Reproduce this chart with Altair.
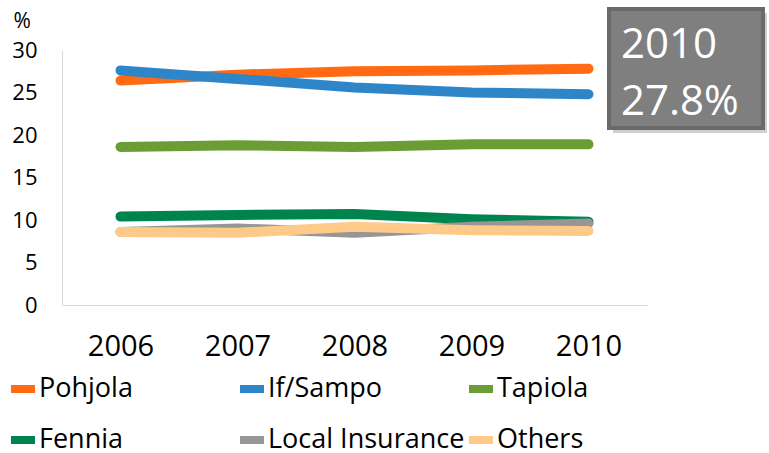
import altair as alt
import pandas as pd

years = ["2006", "2007", "2008", "2009", "2010"]
series = ["Pohjola", "If/Sampo", "Tapiola", "Fennia", "Local Insurance", "Others"]
pohjola = [26.4, 27.1, 27.5, 27.6, 27.8]
if_sampo = [27.6, 26.6, 25.6, 25.0, 24.8]
tapiola = [18.6, 18.8, 18.6, 18.9, 18.9]
fennia = [10.4, 10.6, 10.7, 10.1, 9.8]
local_ins = [8.6, 9.0, 8.5, 9.2, 9.6]
others = [8.6, 8.5, 9.2, 8.8, 8.7]
colors = ["#FF6A13", "#2E86C8", "#6A9E34", "#00844F", "#969696", "#FFC98A"]
box_lines = ["2010", "27.8%"]

values = [pohjola, if_sampo, tapiola, fennia, local_ins, others]
rows = []
for s, vals in zip(series, values):
    for y, v in zip(years, vals):
        rows.append({"year": y, "series": s, "value": v})
df = pd.DataFrame(rows)

FONT = "Open Sans"

lines = alt.Chart(df).mark_line(strokeWidth=10, strokeCap="round", strokeJoin="round").encode(
    x=alt.X("year:O", scale=alt.Scale(type="point", padding=0.5),
            axis=alt.Axis(title=None, labelAngle=0, labelFontSize=29, labelFont=FONT,
                          labelColor="#000", ticks=False, domainColor="#d9d9d9",
                          labelPadding=27, grid=False)),
    y=alt.Y("value:Q", scale=alt.Scale(domain=[0, 30]),
            axis=alt.Axis(values=[0, 5, 10, 15, 20, 25, 30], title="%", titleAngle=0,
                          titleX=-49, titleY=-19, titleAlign="left", titleFontSize=21,
                          titleFont=FONT, titleFontWeight="normal", titleColor="#000",
                          labelFontSize=22, labelFont=FONT, labelColor="#000", ticks=False,
                          domainColor="#d9d9d9", labelPadding=25, grid=False)),
    color=alt.Color("series:N", scale=alt.Scale(domain=series, range=colors),
                    legend=alt.Legend(title=None, orient="none", legendX=-55, legendY=323,
                                      columns=3, direction="horizontal", gridAlign="all",
                                      columnPadding=-12, rowPadding=19, symbolType="stroke",
                                      symbolSize=576, symbolStrokeWidth=8,
                                      labelFontSize=27, labelFont=FONT,
                                      labelColor="#000", labelOffset=0, labelLimit=300)),
    order=alt.Order("year:O"),
)

box_df = pd.DataFrame({"t": [box_lines[0]]})
shadow = alt.Chart(box_df).mark_rect(color="#bbbbbb", opacity=0.7).encode(
    x=alt.value(551), x2=alt.value(705), y=alt.value(-37), y2=alt.value(83))
box = alt.Chart(box_df).mark_rect(color="#7f7f7f", stroke="#6a6a6a", strokeWidth=4).encode(
    x=alt.value(547), x2=alt.value(701), y=alt.value(-41), y2=alt.value(78))
t1 = alt.Chart(pd.DataFrame({"t": [box_lines[0]]})).mark_text(
    align="left", baseline="alphabetic", fontSize=42, font=FONT, color="white").encode(
    x=alt.value(559), y=alt.value(8), text="t:N")
t2 = alt.Chart(pd.DataFrame({"t": [box_lines[1]]})).mark_text(
    align="left", baseline="alphabetic", fontSize=42, font=FONT, color="white").encode(
    x=alt.value(559), y=alt.value(65), text="t:N")

chart = alt.layer(lines, shadow, box, t1, t2).properties(
    width=585, height=255,
    autosize=alt.AutoSizeParams(type="none"),
    padding={"left": 62, "top": 50, "right": 122, "bottom": 148},
).configure(background="white").configure_view(stroke=None)

chart.save("out.html", embed_options={"renderer": "svg", "actions": False})
